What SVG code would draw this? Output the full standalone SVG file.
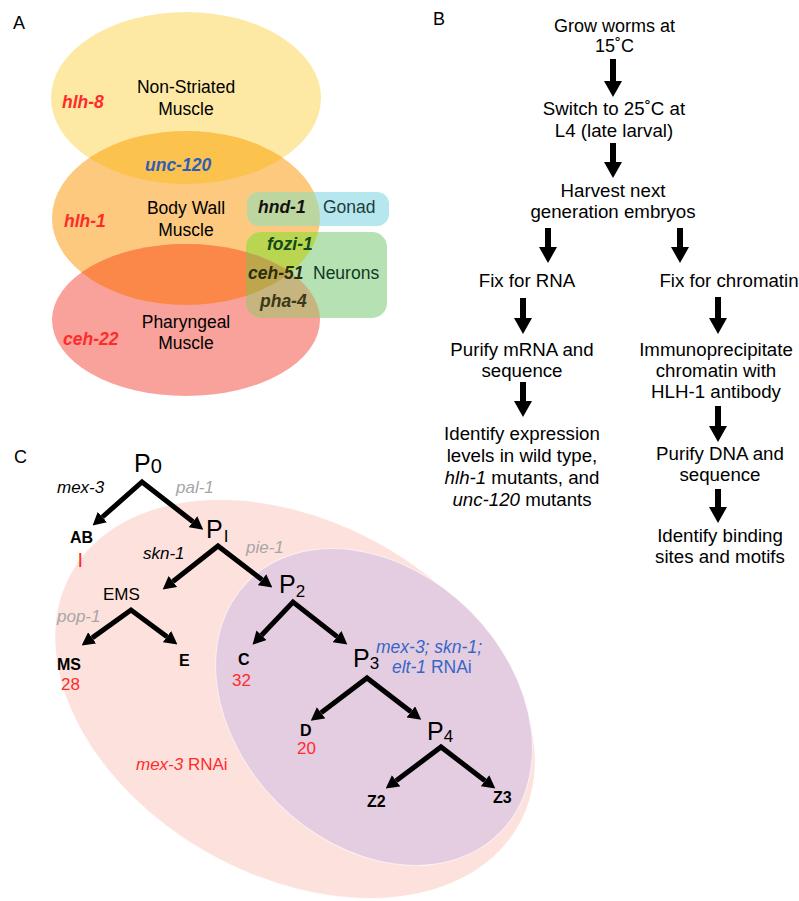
<svg xmlns="http://www.w3.org/2000/svg" width="799" height="901" viewBox="0 0 799 901">
<style>
text{font-family:"Liberation Sans",Arial,sans-serif;fill:#000}
.pl{font-size:18px}
.a{font-size:17.5px}
.am{font-size:17.5px;text-anchor:middle}
.bi{font-weight:bold;font-style:italic}
.b{font-size:18.7px;text-anchor:middle}
.c{font-size:17px}
.cb{font-size:16px;font-weight:bold}
.i{font-style:italic}
.gray{fill:#A6A6A6}
.red{fill:#FF2B2B}
.blue{fill:#3567C6}
.P{font-size:25px}
.sub{font-size:17px}
.arrB{stroke:#000;stroke-width:6;fill:none;marker-end:url(#headB)}
.arrC{stroke:#000;stroke-width:5;fill:none;stroke-linejoin:miter;marker-start:url(#headC);marker-end:url(#headC)}
</style>
<defs>
<marker id="headB" markerUnits="userSpaceOnUse" viewBox="0 0 16 18" markerWidth="16" markerHeight="18" refX="0" refY="9" orient="auto"><path d="M0,0 L16,9 L0,18 Z" fill="#000"/></marker>
<marker id="headC" markerUnits="userSpaceOnUse" viewBox="0 0 13 14" markerWidth="13" markerHeight="14" refX="0" refY="7" orient="auto-start-reverse"><path d="M0,0 L13,7 L0,14 Z" fill="#000"/></marker>
<ellipse id="eY" cx="186" cy="98" rx="135" ry="86"/>
<ellipse id="eO" cx="186" cy="218" rx="134" ry="87"/>
<ellipse id="eP" cx="186" cy="320" rx="134" ry="76"/>
<clipPath id="cY"><use href="#eY"/></clipPath>
<clipPath id="cO"><use href="#eO"/></clipPath>
<clipPath id="cP"><use href="#eP"/></clipPath>
<rect id="rG" x="247" y="192" width="142" height="34" rx="12"/>
<rect id="rN" x="246" y="232" width="141" height="86" rx="15"/>
</defs>

<!-- Panel A -->
<g id="panelA">
<text class="pl" x="13" y="29">A</text>
<g id="nonStriated">
<use href="#eY" fill="#FDE9A3"/>
</g>
<g id="bodyWall">
<use href="#eO" fill="#FCC97E"/>
<use href="#eO" fill="#FCC24E" clip-path="url(#cY)"/>
</g>
<g id="pharyngeal">
<use href="#eP" fill="#F9A29B"/>
<use href="#eP" fill="#FB8848" clip-path="url(#cO)"/>
</g>
<g id="gonad">
<use href="#rG" fill="#B6E7EF"/>
<use href="#rG" fill="#BDD59E" clip-path="url(#cO)"/>
</g>
<g id="neurons">
<use href="#rN" fill="#B6E1B2"/>
<use href="#rN" fill="#B9D552" clip-path="url(#cO)"/>
<use href="#rN" fill="#C6B57F" clip-path="url(#cP)"/>
<g clip-path="url(#cP)"><use href="#rN" fill="#BDA64C" clip-path="url(#cO)"/></g>
</g>
<g id="labelsA">
<text class="am" x="186" y="93">Non-Striated</text>
<text class="am" x="186" y="115">Muscle</text>
<text class="a bi red" x="62" y="108">hlh-8</text>
<text class="a bi blue" x="145" y="171" style="fill:#2F5DB8">unc-120</text>
<text class="am" x="186" y="214">Body Wall</text>
<text class="am" x="186" y="236">Muscle</text>
<text class="a bi red" x="64" y="227">hlh-1</text>
<text class="a bi" x="258" y="213" style="fill:#111">hnd-1</text>
<text class="a" x="323" y="213" style="fill:#1E3C3C">Gonad</text>
<text class="a bi" x="267" y="250" style="fill:#0F4A18">fozi-1</text>
<text class="a bi" x="248" y="279" style="fill:#2A2E0C">ceh-51</text>
<text class="a" x="313" y="279" style="fill:#10391E">Neurons</text>
<text class="a bi" x="260" y="307" style="fill:#3A3818">pha-4</text>
<text class="am" x="186" y="328">Pharyngeal</text>
<text class="am" x="186" y="349">Muscle</text>
<text class="a bi red" x="63" y="345">ceh-22</text>
</g>
</g>

<!-- Panel B -->
<g id="panelB">
<text class="pl" x="433" y="25">B</text>
<g id="grow"><text class="b" x="614.5" y="31.5" style="font-size:18px">Grow worms at</text><text class="b" x="614.5" y="52" style="font-size:18px">15˚C</text></g>
<g id="switch"><text class="b" x="614" y="115">Switch to 25˚C at</text><text class="b" x="614" y="137">L4 (late larval)</text></g>
<g id="harvest"><text class="b" x="613" y="197">Harvest next</text><text class="b" x="613" y="218">generation embryos</text></g>
<g id="fixRNA"><text class="b" x="527" y="287">Fix for RNA</text></g>
<g id="fixChromatin"><text class="b" x="729" y="287">Fix for chromatin</text></g>
<g id="purifyMRNA"><text class="b" x="522" y="356">Purify mRNA and</text><text class="b" x="522" y="377">sequence</text></g>
<g id="identifyExpr">
<text class="b" x="522" y="440">Identify expression</text>
<text class="b" x="522" y="462">levels in wild type,</text>
<text class="b" x="522" y="484"><tspan class="i">hlh-1</tspan> mutants, and</text>
<text class="b" x="522" y="506"><tspan class="i">unc-120</tspan> mutants</text>
</g>
<g id="immuno">
<text class="b" x="716" y="356">Immunoprecipitate</text>
<text class="b" x="716" y="377">chromatin with</text>
<text class="b" x="716" y="398">HLH-1 antibody</text>
</g>
<g id="purifyDNA"><text class="b" x="720" y="460">Purify DNA and</text><text class="b" x="720" y="481">sequence</text></g>
<g id="identifyBinding"><text class="b" x="720" y="542">Identify binding</text><text class="b" x="720" y="563">sites and motifs</text></g>
<g id="connectorsB">
<path class="arrB" d="M613,59 V81"/>
<path class="arrB" d="M613,143 V162"/>
<path class="arrB" d="M548,228 V247"/>
<path class="arrB" d="M680,228 V247"/>
<path class="arrB" d="M523,298 V318"/>
<path class="arrB" d="M718,297 V318"/>
<path class="arrB" d="M523,382 V401"/>
<path class="arrB" d="M718,406 V426"/>
<path class="arrB" d="M718,489 V507"/>
</g>
</g>

<!-- Panel C -->
<g id="panelC">
<text class="pl" x="14" y="463">C</text>
<g id="mex3RNAi">
<ellipse cx="295" cy="699" rx="257" ry="177" transform="rotate(29.5 295 699)" fill="#FDE1DC" stroke="#fff" stroke-opacity="0.6" stroke-width="1"/>
<text class="c red" x="136" y="770"><tspan class="i">mex-3</tspan> RNAi</text>
</g>
<g id="tripleRNAi">
<ellipse cx="374" cy="707" rx="178" ry="136" transform="rotate(45 374 707)" fill="#E5CDE1" stroke="#fff" stroke-opacity="0.6" stroke-width="1"/>
<text class="c blue i" x="376" y="653" style="font-size:17.5px">mex-3; skn-1;</text>
<text class="c blue" x="392" y="673" style="font-size:17.5px"><tspan class="i">elt-1</tspan> RNAi</text>
</g>
<g id="connectorsC">
<path class="arrC" d="M102.4,517 L142,482 L193,521.7"/>
<path class="arrC" d="M172.9,581.5 L218,546 L262,579.7"/>
<path class="arrC" d="M92.2,637.9 L131,610 L167,636.7"/>
<path class="arrC" d="M261.5,635.2 L293,602 L337.1,636.6"/>
<path class="arrC" d="M321.1,712.8 L367,678 L410.9,711.8"/>
<path class="arrC" d="M396.1,780.8 L441,747 L485,780.7"/>
</g>
<g id="edgeLabelsC">
<text class="c i" x="57" y="493">mex-3</text>
<text class="c i gray" x="176" y="493">pal-1</text>
<text class="c i" x="143" y="559">skn-1</text>
<text class="c i gray" x="246" y="553">pie-1</text>
<text class="c i gray" x="57" y="622">pop-1</text>
</g>
<g id="P0"><text class="P" x="134" y="472">P<tspan class="sub" dy="1" style="font-size:20px">0</tspan></text></g>
<g id="AB"><text class="cb" x="70" y="543">AB</text><text class="red" x="77.5" y="567" style="font-size:20px">I</text></g>
<g id="P1"><text class="P" x="206" y="538">P<tspan class="sub" dx="1" dy="4">I</tspan></text></g>
<g id="EMS"><text class="c" x="103" y="600">EMS</text></g>
<g id="MS"><text class="cb" x="57" y="670">MS</text><text class="c red" x="61" y="690">28</text></g>
<g id="E"><text class="cb" x="179" y="666">E</text></g>
<g id="P2"><text class="P" x="279" y="593">P<tspan class="sub" dy="4">2</tspan></text></g>
<g id="C"><text class="cb" x="238" y="665">C</text><text class="c red" x="232" y="686">32</text></g>
<g id="P3"><text class="P" x="353" y="667">P<tspan class="sub" dy="2">3</tspan></text></g>
<g id="D"><text class="cb" x="300" y="736">D</text><text class="c red" x="297" y="754">20</text></g>
<g id="P4"><text class="P" x="427" y="740">P<tspan class="sub" dy="2">4</tspan></text></g>
<g id="Z2"><text class="cb" x="367" y="807">Z2</text></g>
<g id="Z3"><text class="cb" x="493" y="803">Z3</text></g>
</g>
</svg>
